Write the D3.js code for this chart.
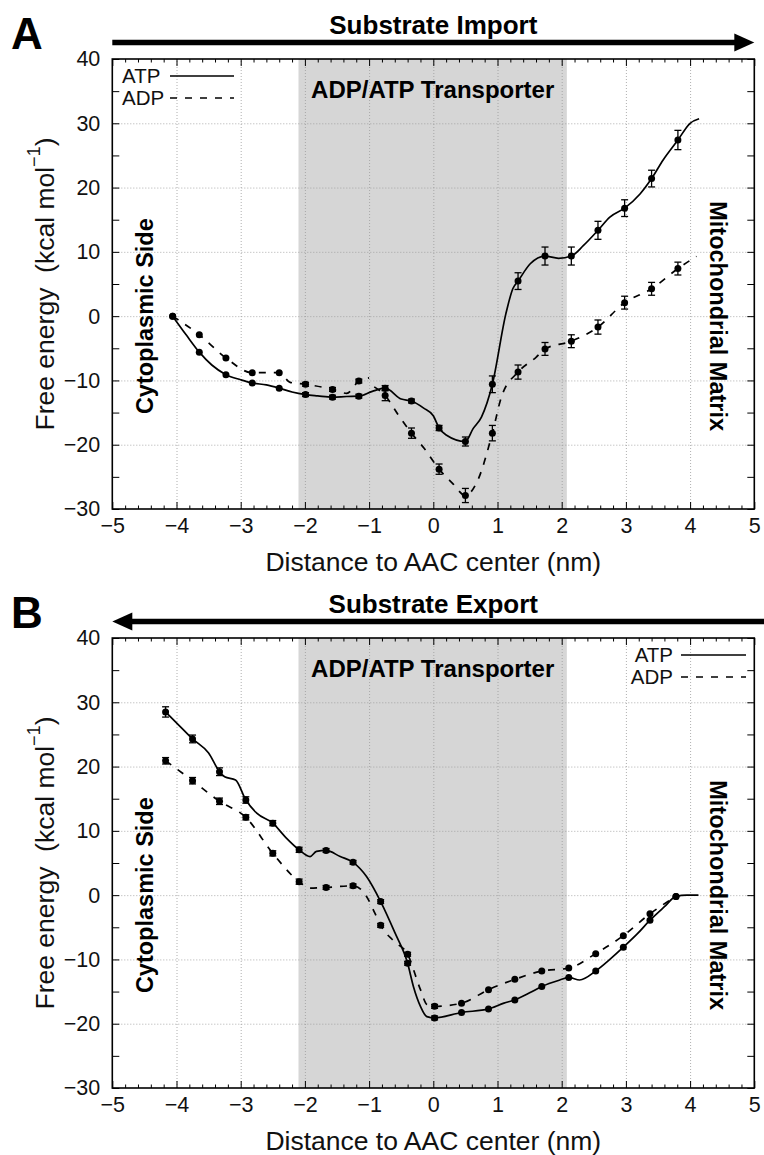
<!DOCTYPE html>
<html>
<head>
<meta charset="utf-8">
<script src="https://cdn.jsdelivr.net/npm/d3@7"></script>
<style>
  body { margin: 0; background: #fff; }
  svg { display: block; font-family: "Liberation Sans", Arial, Helvetica, sans-serif; }
</style>
</head>
<body>
<svg id="chart" width="764" height="1155"></svg>
<script>
// values
const xTicks = [-5, -4, -3, -2, -1, 0, 1, 2, 3, 4, 5];
const yTicks = [-30, -20, -10, 0, 10, 20, 30, 40];
const transporterBand = [-2.1, 2.08];

// Panel A - substrate import (markers + error bars)
const importX      = [-4.06, -3.645, -3.23, -2.82, -2.40, -1.99, -1.57, -1.16, -0.75, -0.34, 0.09, 0.50, 0.92, 1.32, 1.74, 2.15, 2.565, 2.98, 3.40, 3.81];
const importATP    = [0, -5.6, -9.1, -10.4, -11.2, -12.2, -12.6, -12.45, -11.2, -13.2, -17.4, -19.5, -10.6, 5.45, 9.35, 9.35, 13.35, 16.8, 21.4, 27.4];
const importATPErr = [0, 0.2, 0.2, 0.2, 0.2, 0.3, 0.3, 0.3, 0.4, 0.3, 0.4, 0.7, 1.3, 1.3, 1.4, 1.4, 1.4, 1.3, 1.3, 1.5];
const importADP    = [0, -2.9, -6.5, -8.8, -8.8, -10.6, -11.4, -10.1, -12.35, -18.2, -23.8, -27.9, -18.2, -8.7, -5.1, -3.9, -1.7, 2.1, 4.25, 7.4];
const importADPErr = [0, 0.2, 0.2, 0.2, 0.2, 0.3, 0.3, 0.3, 0.8, 0.8, 0.8, 1.1, 1.2, 1.1, 1.0, 1.0, 1.1, 1.0, 1.0, 1.0];

// Panel A - full profiles (null = break in the curve)
const importATPTraceX = [-4.06, -3.85, -3.645, -3.45, -3.23, -3.0, -2.82, -2.6, -2.40, -2.2, -1.99, -1.8, -1.57, -1.35, -1.16, -0.95, -0.75, -0.5, -0.34, -0.15, 0.0, 0.09, 0.2, 0.5, 0.62, 0.75, 0.92, 1.13, 1.24, 1.32, 1.51, 1.74, 1.95, 2.15, 2.34, 2.565, 2.75, 2.98, 3.22, 3.40, 3.58, 3.81, 4.0, 4.14];
const importATPTraceY = [0, -2.9, -5.6, -7.6, -9.1, -9.9, -10.4, -10.7, -11.2, -11.8, -12.2, -12.4, -12.6, -12.5, -12.45, -11.7, -11.2, -12.9, -13.2, -14.3, -15.5, -17.4, -18.5, -19.5, -17.5, -15.7, -10.6, 0.35, 4.3, 5.45, 8.15, 9.35, 9.0, 9.35, 11.0, 13.35, 15.4, 16.8, 19.0, 21.4, 24.3, 27.4, 30.0, 30.7];
const importADPTraceX = [-4.06, -3.645, -3.23, -2.82, -2.40, -2.23, -1.99, -1.57, -1.35, -1.16, -1.0, -0.96, -0.92, -0.75, -0.55, -0.34, -0.14, 0.09, 0.3, 0.50, 0.68, 0.92, 1.06, 1.32, 1.60, 1.74, 2.15, 2.565, 2.98, 3.40, 3.81, 4.10];
const importADPTraceY = [0, -2.9, -6.5, -8.8, -8.8, -10.3, -10.6, -11.4, -12.0, -10.1, -9.6, null, -11.0, -12.35, -15.3, -18.2, -20.6, -23.8, -26.0, -27.9, -25.8, -18.2, -12.6, -8.7, -6.4, -5.1, -3.9, -1.7, 2.1, 4.25, 7.4, 9.3];

// Panel B - substrate export (markers + error bars)
const exportX      = [-4.17, -3.75, -3.33, -2.92, -2.50, -2.09, -1.67, -1.25, -0.82, -0.40, 0.02, 0.44, 0.86, 1.27, 1.69, 2.11, 2.53, 2.96, 3.375, 3.78];
const exportATP    = [28.5, 24.3, 19.2, 14.8, 11.2, 7.05, 6.95, 5.1, -1.0, -10.6, -19.1, -18.25, -17.7, -16.3, -14.2, -12.8, -11.8, -8.1, -3.9, -0.2];
const exportATPErr = [0.8, 0.6, 0.6, 0.5, 0.4, 0.4, 0.3, 0.3, 0.3, 0.3, 0.3, 0.2, 0.2, 0.2, 0.2, 0.2, 0.2, 0.2, 0.2, 0];
const exportADP    = [20.9, 17.8, 14.6, 12.1, 6.5, 2.1, 1.2, 1.45, -4.7, -9.2, -17.3, -16.8, -14.7, -13.1, -11.8, -11.35, -9.1, -6.3, -2.9, -0.2];
const exportADPErr = [0.5, 0.5, 0.5, 0.4, 0.4, 0.4, 0.3, 0.3, 0.3, 0.3, 0.3, 0.2, 0.2, 0.2, 0.2, 0.2, 0.2, 0.2, 0.2, 0];

// Panel B - full profiles
const exportATPTraceX = [-4.17, -3.95, -3.75, -3.5, -3.33, -3.25, -3.08, -2.92, -2.75, -2.5, -2.3, -2.09, -1.92, -1.82, -1.67, -1.45, -1.25, -1.04, -0.82, -0.6, -0.40, -0.31, -0.2, -0.1, 0.02, 0.44, 0.86, 1.1, 1.27, 1.5, 1.69, 1.97, 2.11, 2.28, 2.53, 2.75, 2.96, 3.18, 3.375, 3.6, 3.78, 3.95, 4.13];
const exportATPTraceY = [28.5, 26.3, 24.3, 22.1, 19.2, 18.4, 17.9, 14.8, 12.75, 11.2, 9.0, 7.05, 6.0, 6.8, 6.95, 6.0, 5.1, 2.9, -1.0, -5.8, -10.6, -14.2, -17.3, -18.9, -19.1, -18.25, -17.7, -16.8, -16.3, -15.2, -14.2, -13.2, -12.8, -13.2, -11.8, -10.0, -8.1, -6.0, -3.9, -1.8, -0.2, 0, 0];
const exportADPTraceX = [-4.17, -3.75, -3.33, -2.92, -2.5, -2.09, -1.92, -1.67, -1.25, -1.04, -0.91, -0.82, -0.61, -0.40, -0.2, -0.1, 0.02, 0.44, 0.86, 1.27, 1.69, 2.11, 2.53, 2.96, 3.375, 3.78];
const exportADPTraceY = [20.9, 17.8, 14.6, 12.1, 6.5, 2.1, 1.1, 1.2, 1.45, -0.2, -2.8, -4.7, -7.2, -9.2, -14.7, -17.0, -17.3, -16.8, -14.7, -13.1, -11.8, -11.35, -9.1, -6.3, -2.9, -0.2];

const left = 112.3, plotW = 642, plotH = 450;
const svg = d3.select('#chart');

const x = d3.scaleLinear().domain([-5, 5]).range([0, plotW]);
const y = d3.scaleLinear().domain([-30, 40]).range([plotH, 0]);

const zip = (xs, ys) => xs.map((v, i) => [v, ys[i]]);
const line = d3.line()
  .defined(d => d[1] !== null)
  .x(d => x(d[0]))
  .y(d => y(d[1]))
  .curve(d3.curveMonotoneX);

function drawPanel(cfg) {
  const g = svg.append('g').attr('transform', `translate(${left},${cfg.top})`);

  // transporter band
  g.append('rect')
    .attr('x', x(transporterBand[0]))
    .attr('width', x(transporterBand[1]) - x(transporterBand[0]))
    .attr('y', 0).attr('height', plotH)
    .attr('fill', '#d6d6d6');

  // grid
  const gx = g.append('g').attr('transform', `translate(0,${plotH})`)
    .call(d3.axisBottom(x).tickValues(xTicks.slice(1, -1)).tickSize(-plotH).tickFormat(''));
  const gy = g.append('g')
    .call(d3.axisLeft(y).tickValues(yTicks.slice(1, -1)).tickSize(-plotW).tickFormat(''));
  [gx, gy].forEach(a => {
    a.select('.domain').remove();
    a.selectAll('line').attr('stroke', '#9a9a9a').attr('stroke-width', 0.8).attr('stroke-dasharray', '1,2');
  });

  // profiles
  g.append('path').datum(zip(cfg.atpTraceX, cfg.atpTraceY))
    .attr('d', line).attr('fill', 'none').attr('stroke', '#000').attr('stroke-width', 1.7);
  g.append('path').datum(zip(cfg.adpTraceX, cfg.adpTraceY))
    .attr('d', line).attr('fill', 'none').attr('stroke', '#000').attr('stroke-width', 1.7)
    .attr('stroke-dasharray', '7,8');

  // markers with error bars
  [[cfg.atp, cfg.atpErr], [cfg.adp, cfg.adpErr]].forEach(([vals, errs]) => {
    const pts = cfg.xs.map((v, i) => ({ x: v, y: vals[i], e: errs[i] }));
    const eb = g.append('g').attr('stroke', '#000').attr('stroke-width', 1.3);
    pts.filter(d => d.e > 0.25).forEach(d => {
      eb.append('line').attr('x1', x(d.x)).attr('x2', x(d.x)).attr('y1', y(d.y - d.e)).attr('y2', y(d.y + d.e));
      [d.y - d.e, d.y + d.e].forEach(v => {
        eb.append('line').attr('x1', x(d.x) - 3.5).attr('x2', x(d.x) + 3.5).attr('y1', y(v)).attr('y2', y(v));
      });
    });
    g.append('g').selectAll('circle').data(pts).enter().append('circle')
      .attr('cx', d => x(d.x)).attr('cy', d => y(d.y)).attr('r', 3.5).attr('fill', '#000');
  });

  // frame and ticks on all sides
  const minorX = d3.range(-50, 51, 2).map(v => v / 10).filter(v => !xTicks.includes(v));
  const minorY = [-25, -15, -5, 5, 15, 25, 35];
  const tickStyle = a => {
    a.select('.domain').remove();
    a.selectAll('line').attr('stroke', '#000').attr('stroke-width', 1);
  };
  g.append('g').attr('transform', `translate(0,${plotH})`)
    .call(d3.axisBottom(x).tickValues(minorX).tickSize(-3.5).tickFormat('')).call(tickStyle);
  g.append('g').call(d3.axisTop(x).tickValues(minorX).tickSize(-3.5).tickFormat('')).call(tickStyle);
  g.append('g').call(d3.axisTop(x).tickValues(xTicks).tickSize(-7).tickFormat('')).call(tickStyle);
  g.append('g').call(d3.axisLeft(y).tickValues(minorY).tickSize(-7).tickFormat('')).call(tickStyle);
  g.append('g').attr('transform', `translate(${plotW},0)`)
    .call(d3.axisRight(y).tickValues(minorY).tickSize(-7).tickFormat('')).call(tickStyle);
  g.append('g').attr('transform', `translate(${plotW},0)`)
    .call(d3.axisRight(y).tickValues(yTicks).tickSize(-7).tickFormat('')).call(tickStyle);

  const xAxis = g.append('g').attr('transform', `translate(0,${plotH})`)
    .call(d3.axisBottom(x).tickValues(xTicks).tickSizeInner(-7).tickSizeOuter(0).tickPadding(9));
  const yAxis = g.append('g')
    .call(d3.axisLeft(y).tickValues(yTicks).tickSizeInner(-7).tickSizeOuter(0).tickPadding(12));
  [xAxis, yAxis].forEach(a => {
    a.call(tickStyle);
    a.attr('font-size', 21.5).attr('font-family', null);
    a.selectAll('text').attr('fill', '#111');
  });

  g.append('rect').attr('width', plotW).attr('height', plotH)
    .attr('fill', 'none').attr('stroke', '#000').attr('stroke-width', 1.6);

  // axis titles
  g.append('text')
    .attr('x', x(0)).attr('y', plotH + 62)
    .attr('text-anchor', 'middle').attr('font-size', 26.5).attr('fill', '#111')
    .text('Distance to AAC center (nm)');
  const yt = g.append('text')
    .attr('transform', `translate(${45 - left},${plotH / 2}) rotate(-90)`)
    .attr('text-anchor', 'middle').attr('dominant-baseline', 'central')
    .attr('font-size', 26.5).attr('fill', '#111');
  yt.append('tspan').text('Free energy\u00a0 (kcal mol');
  yt.append('tspan').attr('font-size', 18).attr('dy', -11).text('\u22121');
  yt.append('tspan').attr('dy', 11).text(')');

  // region labels
  g.append('text')
    .attr('x', (x(transporterBand[0]) + x(transporterBand[1])) / 2).attr('y', 39)
    .attr('text-anchor', 'middle').attr('font-size', 24).attr('font-weight', 'bold')
    .text('ADP/ATP Transporter');
  g.append('text')
    .attr('transform', `translate(${145 - left},${y(0)}) rotate(-90)`)
    .attr('text-anchor', 'middle').attr('dominant-baseline', 'central')
    .attr('font-size', 23.5).attr('font-weight', 'bold')
    .text('Cytoplasmic Side');
  g.append('text')
    .attr('transform', `translate(${718 - left},${y(0)}) rotate(90)`)
    .attr('text-anchor', 'middle').attr('dominant-baseline', 'central')
    .attr('font-size', 23.5).attr('font-weight', 'bold')
    .text('Mitochondrial Matrix');

  // legend
  const lg = g.append('g').attr('font-size', 20.5).attr('fill', '#111');
  ['ATP', 'ADP'].forEach((name, i) => {
    const by = 24 + i * 22;
    lg.append('text').attr('x', cfg.legend.textX - left).attr('y', by)
      .attr('text-anchor', cfg.legend.anchor).text(name);
    lg.append('line')
      .attr('x1', cfg.legend.lineX[0] - left).attr('x2', cfg.legend.lineX[1] - left)
      .attr('y1', by - 7).attr('y2', by - 7)
      .attr('stroke', '#000').attr('stroke-width', 1.7)
      .attr('stroke-dasharray', i ? '7,8' : null);
  });

  // panel letter, direction arrow, title
  svg.append('text').attr('x', 11).attr('y', cfg.top - 10)
    .attr('font-size', 44).attr('font-weight', 'bold').text(cfg.letter);
  const ay = cfg.top - 16.5, x0 = left, x1 = left + plotW, head = 20;
  const ag = svg.append('g');
  if (cfg.dir > 0) {
    ag.append('line').attr('x1', x0).attr('x2', x1 - head + 2).attr('y1', ay).attr('y2', ay)
      .attr('stroke', '#000').attr('stroke-width', 5.5);
    ag.append('path').attr('d', `M${x1},${ay} L${x1 - head},${ay - 9} L${x1 - head},${ay + 9} Z`);
  } else {
    ag.append('line').attr('x1', x0 + head - 2).attr('x2', x1 + 10).attr('y1', ay).attr('y2', ay)
      .attr('stroke', '#000').attr('stroke-width', 5.5);
    ag.append('path').attr('d', `M${x0},${ay} L${x0 + head},${ay - 9} L${x0 + head},${ay + 9} Z`);
  }
  svg.append('text').attr('x', left + x(0)).attr('y', cfg.top - 25)
    .attr('text-anchor', 'middle').attr('font-size', 26).attr('font-weight', 'bold')
    .text(cfg.title);
}

drawPanel({
  top: 59, letter: 'A', title: 'Substrate Import', dir: 1,
  xs: importX, atp: importATP, atpErr: importATPErr, adp: importADP, adpErr: importADPErr,
  atpTraceX: importATPTraceX, atpTraceY: importATPTraceY,
  adpTraceX: importADPTraceX, adpTraceY: importADPTraceY,
  legend: { textX: 122, anchor: 'start', lineX: [170, 234] }
});

drawPanel({
  top: 638, letter: 'B', title: 'Substrate Export', dir: -1,
  xs: exportX, atp: exportATP, atpErr: exportATPErr, adp: exportADP, adpErr: exportADPErr,
  atpTraceX: exportATPTraceX, atpTraceY: exportATPTraceY,
  adpTraceX: exportADPTraceX, adpTraceY: exportADPTraceY,
  legend: { textX: 673, anchor: 'end', lineX: [681, 746] }
});
</script>
</body>
</html>
